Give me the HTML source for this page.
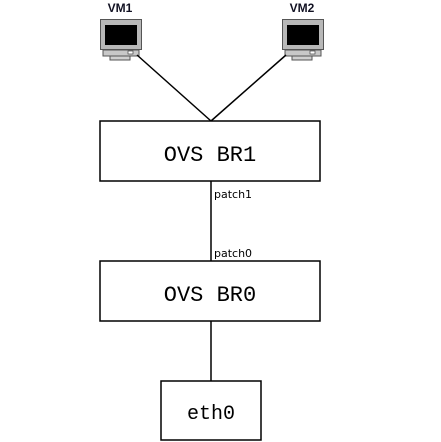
<!DOCTYPE html>
<html><head><style>body{margin:0;background:#fff}svg{display:block}</style></head><body>
<svg width="441" height="442" xmlns="http://www.w3.org/2000/svg">
<defs>
<g id="pc">
<rect x="0.5" y="0.5" width="41" height="30" fill="#b8b8b8" stroke="#555"/>
<rect x="5" y="6" width="32" height="20" fill="#000"/>
<rect x="3" y="31" width="36" height="6" fill="#c8c8c8" stroke="#555"/>
<rect x="28" y="32" width="5" height="3" fill="#fff" stroke="#444" stroke-width="0.7"/>
<rect x="10" y="37" width="20" height="4" fill="#d0d0d0" stroke="#555"/>
</g>
</defs>
<text x="120" y="12" font-family="Liberation Sans, sans-serif" font-size="12" font-weight="bold" fill="#112" text-anchor="middle">VM1</text>
<text x="302" y="12" font-family="Liberation Sans, sans-serif" font-size="12" font-weight="bold" fill="#112" text-anchor="middle">VM2</text>
<use href="#pc" x="100" y="19"/>
<use href="#pc" x="282" y="19"/>
<g stroke="#000" stroke-width="1.5" fill="none">
<line x1="137" y1="55" x2="211" y2="121"/>
<line x1="286" y1="55" x2="211" y2="121"/>
<rect x="100" y="121" width="220" height="60"/>
<rect x="100" y="261" width="220" height="60"/>
<rect x="161" y="381" width="100" height="59"/>
<line x1="211" y1="181" x2="211" y2="261"/>
<line x1="211" y1="321" x2="211" y2="381"/>
</g>
<text x="210" y="161" font-family="Liberation Mono, monospace" font-size="22" text-anchor="middle">OVS BR1</text>
<text x="210" y="301" font-family="Liberation Mono, monospace" font-size="22" text-anchor="middle">OVS BR0</text>
<text x="211" y="419" font-family="Liberation Mono, monospace" font-size="20" text-anchor="middle">eth0</text>
<text x="214" y="198" font-family="DejaVu Sans, sans-serif" font-size="11">patch1</text>
<text x="214" y="257" font-family="DejaVu Sans, sans-serif" font-size="11">patch0</text>
</svg>
</body></html>
